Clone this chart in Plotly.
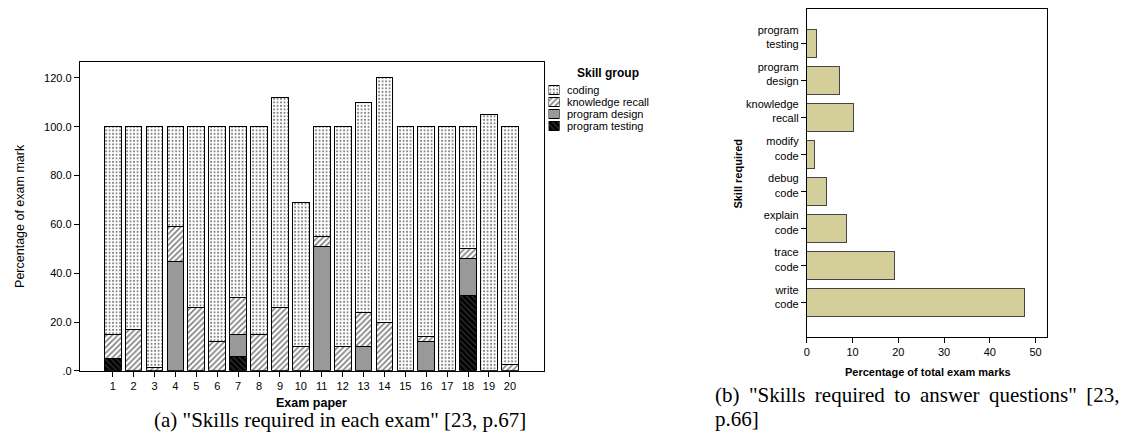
import plotly.graph_objects as go

# ---------------- data: left chart (percentage of exam mark per skill group) ----------------
exam_papers = list(range(1, 21))
program_testing = [5, 0, 0, 0, 0, 0, 6, 0, 0, 0, 0, 0, 0, 0, 0, 0, 0, 31, 0, 0]
program_design = [0, 0, 0, 45, 0, 0, 9, 0, 0, 0, 51, 0, 10, 0, 0, 12, 0, 15, 0, 0]
knowledge_recall = [10, 17, 1.5, 14, 26, 12, 15, 15, 26, 10, 4, 10, 14, 20, 0, 2, 0, 4, 0, 2.5]
coding = [85, 83, 98.5, 41, 74, 88, 70, 85, 86, 59, 45, 90, 86, 100, 100, 86, 100, 50, 105, 97.5]
y_tick_vals = [0, 20, 40, 60, 80, 100, 120]
y_tick_text = [".0", "20.0", "40.0", "60.0", "80.0", "100.0", "120.0"]
legend_labels = ["coding", "knowledge recall", "program design", "program testing"]

# ---------------- data: right chart (skills required) ----------------
skills = ["write<br>code", "trace<br>code", "explain<br>code", "debug<br>code",
          "modify<br>code", "knowledge<br>recall", "program<br>design", "program<br>testing"]
skill_pct = [47.6, 19.2, 8.65, 4.3, 1.75, 10.2, 7.05, 2.1]
x2_ticks = [0, 10, 20, 30, 40, 50]

W, H = 1126, 436
def px(x):
    return x / W
def py(y):
    return 1 - y / H

FONT = "Liberation Sans, Arial, sans-serif"
SERIF = "Liberation Serif, DejaVu Serif, serif"
THIN = "\u2009"

styles = {
    "program testing": dict(color="black", pattern=dict(shape="\\", fgcolor="#666666", bgcolor="black", size=4, solidity=0.3)),
    "program design": dict(color="#999999"),
    "knowledge recall": dict(color="white", pattern=dict(shape="/", fgcolor="black", bgcolor="white", size=4, solidity=0.4)),
    "coding": dict(color="white", pattern=dict(shape=".", fgcolor="black", bgcolor="white", size=3.5, solidity=0.25)),
}

fig = go.Figure()
series = [("program testing", program_testing), ("program design", program_design),
          ("knowledge recall", knowledge_recall), ("coding", coding)]
for name, vals in series:
    st = styles[name]
    mk = dict(color=st["color"], line=dict(color="black", width=1))
    if "pattern" in st:
        mk["pattern"] = st["pattern"]
    fig.add_trace(go.Bar(x=exam_papers, y=vals, name=name, marker=mk, width=0.8,
                         showlegend=False, xaxis="x", yaxis="y"))

# custom compact legend swatches on a helper axis
for name in legend_labels:
    st = styles[name]
    mk = dict(color=st["color"], line=dict(color="black", width=1))
    if "pattern" in st:
        mk["pattern"] = st["pattern"]
    fig.add_trace(go.Bar(x=[1], y=[name], orientation="h", marker=mk, width=0.8,
                         showlegend=False, xaxis="x3", yaxis="y3", hoverinfo="skip"))

fig.add_trace(go.Bar(x=skill_pct, y=skills, orientation="h",
                     marker=dict(color="#d4cf9a", line=dict(color="#444444", width=1)),
                     width=0.75, showlegend=False, xaxis="x2", yaxis="y2"))

axis_common = dict(showline=True, linecolor="black", linewidth=1, mirror=True,
                   showgrid=False, zeroline=False, ticks="outside", ticklen=5,
                   tickcolor="black", tickfont=dict(family=FONT, size=11, color="black"))

fig.update_layout(
    width=W, height=H, autosize=False,
    margin=dict(l=0, r=0, t=0, b=0),
    paper_bgcolor="white", plot_bgcolor="white",
    barmode="stack",
    font=dict(family=FONT, color="black"),
    xaxis=dict(domain=[px(77), px(542)], range=[-0.574, 21.61], tickmode="array",
               tickvals=exam_papers, ticktext=[str(v) for v in exam_papers], **axis_common),
    yaxis=dict(domain=[py(376), py(63)], range=[0, 126.5], tickmode="array",
               tickvals=y_tick_vals, ticktext=y_tick_text, **axis_common),
    xaxis2=dict(domain=[px(806), px(1047)], range=[0, 52.55], tickmode="array",
                tickvals=x2_ticks, anchor="y2", **axis_common),
    yaxis2=dict(domain=[py(342), py(9)], range=[-0.93, 7.93], type="category",
                categoryorder="array", categoryarray=skills, anchor="x2",
                ticklabelshift=-6, **axis_common),
    xaxis3=dict(domain=[px(547), px(558)], range=[0, 1], visible=False, anchor="y3"),
    yaxis3=dict(domain=[py(133.5), py(85.5)], type="category", categoryorder="array",
                categoryarray=legend_labels[::-1], range=[-0.5, 3.5], visible=False, anchor="x3"),
)

ann = []
def add_text(text, x, y, size, bold=False, angle=0, family=FONT, xanchor="center"):
    ann.append(dict(text=("<b>%s</b>" % text) if bold else text, x=px(x), y=py(y),
                    xref="paper", yref="paper", showarrow=False, textangle=angle,
                    xanchor=xanchor, yanchor="middle",
                    font=dict(family=family, size=size, color="black")))

add_text("Percentage of exam mark", 17, 219, 12.5, angle=-90)
add_text("Exam paper", 309, 409, 12.5, bold=True)
add_text("(a) \"Skills required in each exam\" [23, p.67]", 338, 426, 21, family=SERIF)
add_text("Skill group", 607, 74, 12, bold=True)
for i, lab in enumerate(legend_labels):
    add_text(lab, 564, 91.5 + 12 * i, 11, xanchor="left")
add_text("Skill required", 737, 176, 11, bold=True, angle=-90)
add_text("Percentage of total exam marks", 927, 377, 11, bold=True)
gap = " " + THIN
add_text(gap.join(["(b)", "\"Skills", "required", "to", "answer", "questions\"", "[23,"]),
         712, 401, 21, family=SERIF, xanchor="left")
add_text("p.66]", 712, 425, 21, family=SERIF, xanchor="left")
fig.update_layout(annotations=ann)

fig.write_html("out.html", post_script="document.body.style.margin='0';",
               config={"displayModeBar": False})
